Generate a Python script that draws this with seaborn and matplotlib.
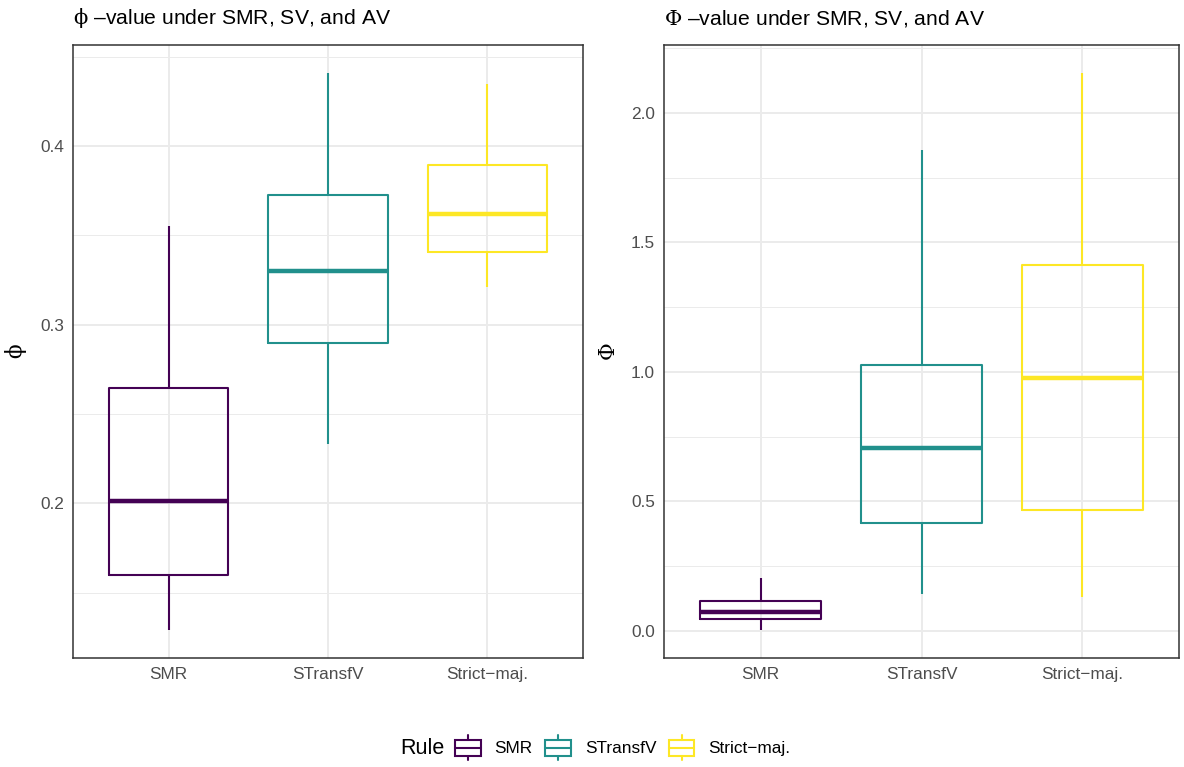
import matplotlib
matplotlib.use("Agg")

import matplotlib.pyplot as plt
import numpy as np
import pandas as pd
import seaborn as sns
from matplotlib.legend_handler import HandlerBase
from matplotlib.lines import Line2D
from matplotlib.patches import Patch, Rectangle
from matplotlib.ticker import MultipleLocator


RULES = ["SMR", "STransfV", "Strict\u2212maj."]
COLORS = ["#440154", "#21908C", "#FDE725"]

# five-number summaries: min, q1, median, q3, max
PHI_SMR = [0.129, 0.160, 0.2015, 0.2645, 0.355]
PHI_STRANSFV = [0.233, 0.2895, 0.330, 0.3725, 0.441]
PHI_STRICT = [0.321, 0.3405, 0.362, 0.3895, 0.4345]

BIGPHI_SMR = [0.003, 0.046, 0.073, 0.115, 0.203]
BIGPHI_STRANSFV = [0.142, 0.418, 0.706, 1.026, 1.858]
BIGPHI_STRICT = [0.130, 0.465, 0.976, 1.414, 2.154]


def build_frame(groups: list[list[float]]) -> pd.DataFrame:
    """
    Long table: one row per value, five values per rule.
    """
    rows = []
    for rule, values in zip(RULES, groups):
        for v in values:
            rows.append({"rule": rule, "value": v})
    return pd.DataFrame(rows)


class BoxKeyHandler(HandlerBase):
    """
    Draw a small boxplot glyph as the legend key.
    """

    def create_artists(self, legend, orig_handle, xdescent, ydescent,
                       width, height, fontsize, trans):
        color = orig_handle.get_edgecolor()
        x0, y0 = -xdescent, -ydescent
        box = Rectangle((x0, y0), width, height,
                        facecolor="white", edgecolor=color, linewidth=1.5,
                        transform=trans)
        mid = Line2D([x0, x0 + width], [y0 + 0.5 * height] * 2,
                     color=color, linewidth=1.5, transform=trans)
        low = Line2D([x0 + width / 2] * 2, [y0 - 0.3 * height, y0],
                     color=color, linewidth=1.5, transform=trans)
        high = Line2D([x0 + width / 2] * 2, [y0 + height, y0 + 1.3 * height],
                      color=color, linewidth=1.5, transform=trans)
        return [box, mid, low, high]


def draw_panel(ax, df, ylabel, title, minor_step, major_step):
    sns.boxplot(
        data=df, x="rule", y="value", hue="rule", order=RULES, hue_order=RULES,
        palette=COLORS, fill=False, whis=np.inf, width=0.75, linewidth=1.5,
        showcaps=False, medianprops={"linewidth": 3.2}, legend=False, ax=ax,
    )
    lo, hi = df["value"].min(), df["value"].max()
    pad = 0.05 * (hi - lo)
    ax.set_ylim(lo - pad, hi + pad)
    ax.set_xlim(-0.6, 2.6)
    ax.yaxis.set_major_locator(MultipleLocator(major_step))
    ax.yaxis.set_minor_locator(MultipleLocator(minor_step))
    ax.yaxis.set_major_formatter(plt.FuncFormatter(lambda v, _: f"{v:.1f}"))

    ax.set_axisbelow(True)
    ax.grid(which="major", color="#EBEBEB", linewidth=1.4)
    ax.grid(which="minor", axis="y", color="#EBEBEB", linewidth=0.7)
    ax.tick_params(which="minor", length=0)
    ax.tick_params(which="major", length=3.5, width=1, color="#333333",
                   labelcolor="#4D4D4D", labelsize=12.4, pad=3)
    for spine in ax.spines.values():
        spine.set_color("#333333")
        spine.set_linewidth(1.1)

    ax.set_xlabel("")
    ax.set_ylabel(ylabel, fontsize=15.5, color="black", labelpad=8)
    ax.set_title(title, loc="left", fontsize=15.2, pad=15, color="black")


if __name__ == "__main__":
    sns.set_theme(style="white")
    plt.rcParams["font.family"] = ["Liberation Sans", "DejaVu Sans"]
    plt.rcParams["mathtext.fontset"] = "custom"
    plt.rcParams["mathtext.rm"] = "DejaVu Serif"
    plt.rcParams["mathtext.it"] = "DejaVu Serif"
    plt.rcParams["axes.unicode_minus"] = True
    plt.rcParams["text.color"] = "black"

    phi_df = build_frame([PHI_SMR, PHI_STRANSFV, PHI_STRICT])
    bigphi_df = build_frame([BIGPHI_SMR, BIGPHI_STRANSFV, BIGPHI_STRICT])

    W, H = 1184, 767
    fig = plt.figure(figsize=(W / 100, H / 100), dpi=100)
    fig.patch.set_facecolor("white")

    bottom = (H - 658) / H
    height = (658 - 45) / H
    ax_left = fig.add_axes([73 / W, bottom, (583 - 73) / W, height])
    ax_right = fig.add_axes([664 / W, bottom, (1179 - 664) / W, height])

    draw_panel(ax_left, phi_df, r"$\phi$",
               "$\\phi$ \u2013value under SMR, SV, and AV", 0.05, 0.1)
    draw_panel(ax_right, bigphi_df, r"$\Phi$",
               "$\\Phi$ \u2013value under SMR, SV, and AV", 0.25, 0.5)

    legend_y = 1 - 748 / H
    fig.text(400 / W, legend_y, "Rule", fontsize=15.5, va="center", ha="left",
             color="black")
    handles = [Patch(facecolor="white", edgecolor=c) for c in COLORS]
    legend = fig.legend(
        handles, RULES, loc="center left", bbox_to_anchor=(455 / W, legend_y),
        ncol=3, frameon=False, fontsize=12.4, handler_map={Patch: BoxKeyHandler()},
        handlelength=1.5, handleheight=1.05, handletextpad=0.8, columnspacing=0.72,
        borderpad=0, borderaxespad=0,
    )
    for text in legend.get_texts():
        text.set_color("black")

    fig.savefig("out.png", dpi=100)
